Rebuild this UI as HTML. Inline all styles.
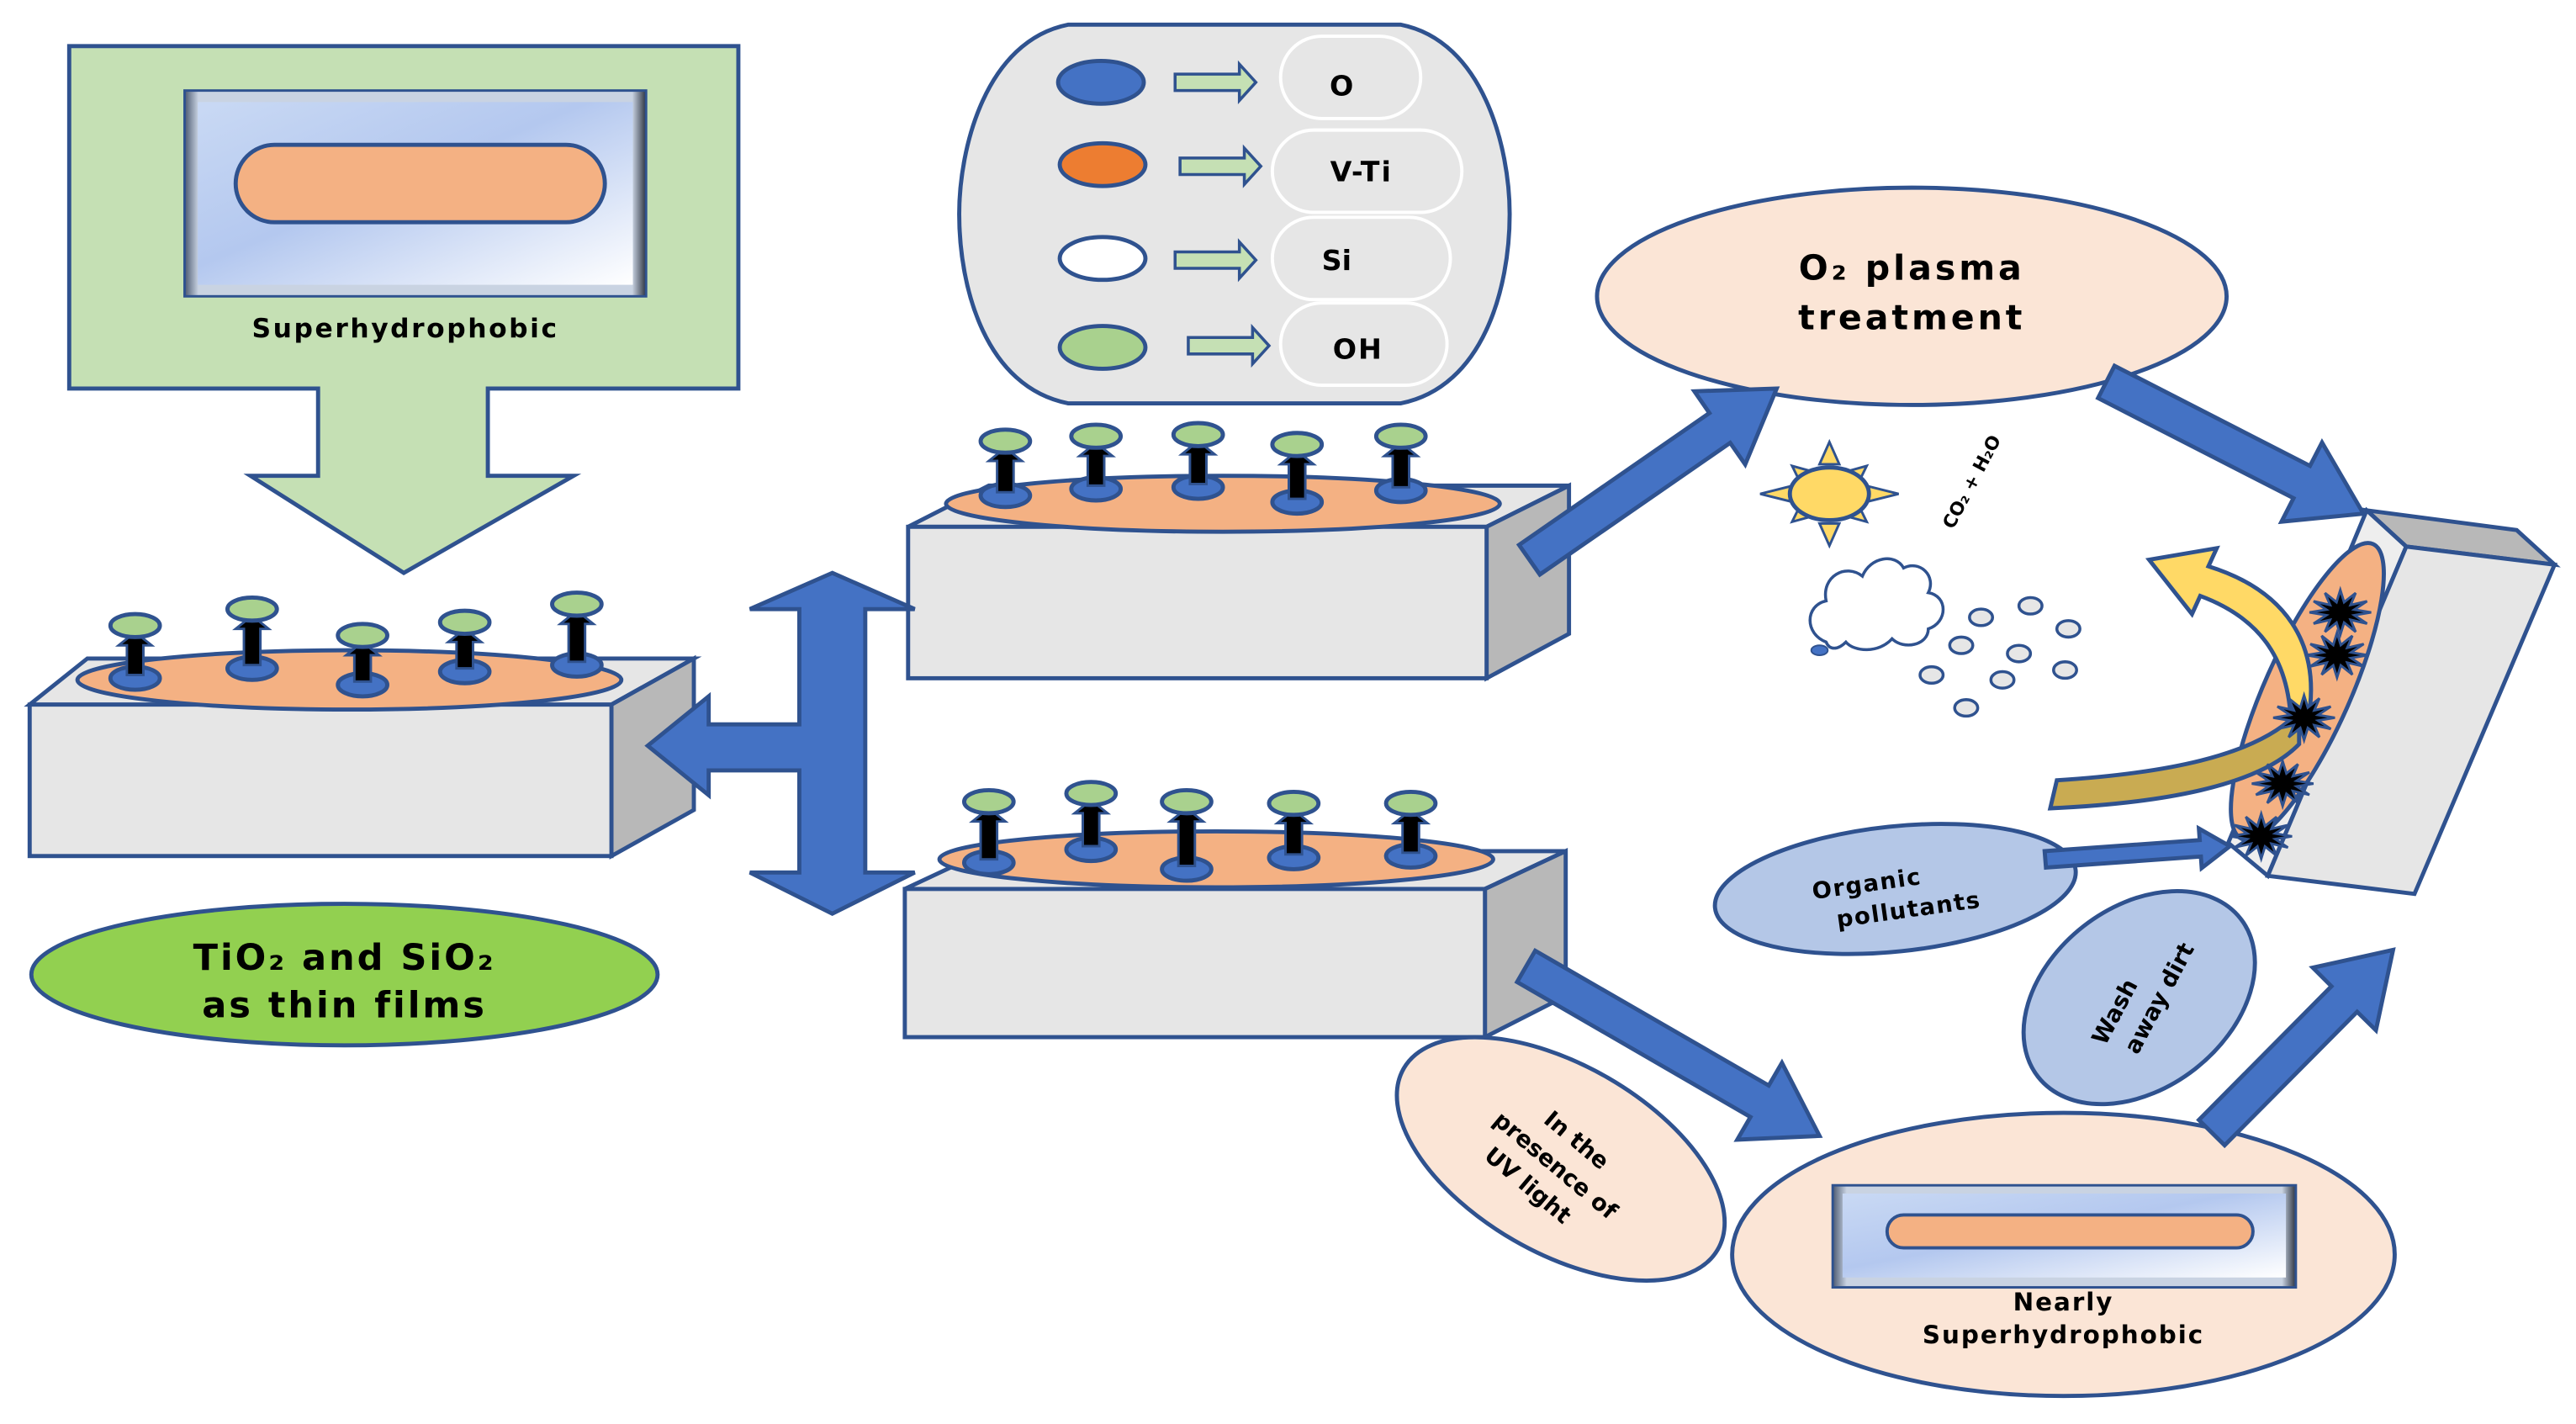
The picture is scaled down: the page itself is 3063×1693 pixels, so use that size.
<!DOCTYPE html>
<html><head><meta charset="utf-8"><style>
html,body{margin:0;padding:0;background:#fff;width:3063px;height:1693px;overflow:hidden}
svg{display:block}
text{font-family:"DejaVu Sans","Liberation Sans",sans-serif;font-weight:bold;fill:#000}
</style></head><body>
<svg id="s" width="3063" height="1693" viewBox="0 0 1563 865" preserveAspectRatio="none" xmlns="http://www.w3.org/2000/svg">
<defs>
<linearGradient id="bev" x1="0" y1="0" x2="1" y2="1">
<stop offset="0" stop-color="#c9d9f4"/><stop offset="0.45" stop-color="#b4c8ef"/><stop offset="1" stop-color="#ffffff"/></linearGradient>
<linearGradient id="frame" x1="0" y1="0" x2="1" y2="0">
<stop offset="0" stop-color="#4a5870"/><stop offset="0.03" stop-color="#c9d3e2"/><stop offset="0.97" stop-color="#c9d3e2"/><stop offset="1" stop-color="#2c3340"/></linearGradient>
</defs>
<g stroke="#2f528f" stroke-width="2.5" stroke-linejoin="miter">
<polygon points="42,28 448,28 448,236 296,236 296,289 348,289 245,348 152,289 193,289 193,236 42,236" fill="#c5e0b4"/>
<rect x="112" y="55" width="280" height="125" fill="url(#frame)" stroke-width="1.5"/>
<rect x="120" y="62" width="264" height="111" fill="url(#bev)" stroke="none"/>
<rect x="143" y="88" width="224" height="47" rx="23.5" fill="#f4b183"/>

<polygon points="18,428 53,400 421,400 371,428" fill="#e6e6e6"/>
<polygon points="371,428 421,400 421,492 371,520" fill="#b8b8b8"/>
<rect x="18" y="428" width="353" height="92" fill="#e6e6e6"/>
<ellipse cx="212" cy="413" rx="165" ry="18" fill="#f4b183"/>
<g id="pinsL"></g>

<ellipse cx="209" cy="592" rx="190" ry="43" fill="#92d050"/>

<path d="M648,15 L850,15 C900,25 916,90 916,130 C916,175 900,235 850,245 L648,245 C598,235 582,175 582,130 C582,90 598,25 648,15 Z" fill="#e6e6e6"/>
<g stroke="#fff" stroke-width="2" fill="#e6e6e6">
<rect x="777" y="22" width="85" height="50" rx="25"/>
<rect x="772" y="79" width="115" height="50" rx="25"/>
<rect x="772" y="132" width="108" height="50" rx="25"/>
<rect x="777" y="184" width="101" height="50" rx="25"/>
</g>
<ellipse cx="668" cy="50" rx="26" ry="13" fill="#4472c4"/>
<ellipse cx="669" cy="100" rx="26" ry="13" fill="#ed7d31"/>
<ellipse cx="669" cy="157" rx="26" ry="13" fill="#fff"/>
<ellipse cx="669" cy="211" rx="26" ry="13" fill="#a9d18e"/>
<g fill="#c5e0b4" stroke-width="1.8">
<polygon points="713,45 752,45 752,39 762,50 752,61 752,55 713,55"/>
<polygon points="716,96 755,96 755,90 765,101 755,112 755,106 716,106"/>
<polygon points="713,153 752,153 752,147 762,158 752,169 752,163 713,163"/>
<polygon points="721,205 760,205 760,199 770,210 760,221 760,215 721,215"/>
</g>

<polygon points="551,320 600,295 952,295 902,320" fill="#e6e6e6"/>
<polygon points="902,320 952,295 952,385 902,412" fill="#b8b8b8"/>
<rect x="551" y="320" width="351" height="92" fill="#e6e6e6"/>
<ellipse cx="742" cy="306" rx="168" ry="17" fill="#f4b183"/>
<g id="pinsT"></g>

<polygon points="549,540 598,517 950,517 901,540" fill="#e6e6e6"/>
<polygon points="901,540 950,517 950,605 901,630" fill="#b8b8b8"/>
<rect x="549" y="540" width="352" height="90" fill="#e6e6e6"/>
<ellipse cx="738" cy="522" rx="168" ry="17" fill="#f4b183"/>
<g id="pinsB"></g>

<polygon points="505,348 555,370 525,370 525,437 525,437 525,530 555,530 505,555 455,530 485,530 485,468 430,468 430,483 393,453 430,423 430,440 485,440 485,370 455,370" fill="#4472c4"/>

<ellipse cx="1160" cy="180" rx="191" ry="66" fill="#fbe5d6"/>
<ellipse cx="947" cy="704" rx="110" ry="57" transform="rotate(30 947 704)" fill="#fbe5d6"/>
<ellipse cx="1252" cy="762" rx="201" ry="86" fill="#fbe5d6"/>
<rect x="1112" y="720" width="281" height="62" fill="url(#frame)" stroke-width="1.5"/>
<rect x="1118" y="725" width="269" height="51" fill="url(#bev)" stroke="none"/>
<rect x="1145" y="738" width="222" height="20" rx="10" fill="#f4b183" stroke-width="2"/>
<ellipse cx="1150" cy="540" rx="110" ry="38" transform="rotate(-6 1150 540)" fill="#b4c7e7"/>
<ellipse cx="1298" cy="606" rx="78" ry="55" transform="rotate(-38 1298 606)" fill="#b4c7e7"/>

<g id="arrows"></g>

<g transform="translate(1110,300)">
<g id="rays" fill="#ffd966" stroke-width="1.5"></g>
<ellipse cx="0" cy="0" rx="24" ry="16" fill="#ffd966"/>
</g>
<path d="M1108,390 C1095,385 1095,368 1108,365 C1105,350 1120,342 1130,350 C1135,338 1150,336 1155,345 C1165,340 1175,350 1170,360 C1182,362 1182,378 1170,382 C1170,392 1155,395 1148,388 C1140,397 1125,396 1120,390 C1115,395 1110,395 1108,390 Z" fill="#fff" stroke-width="1.8"/>
<ellipse cx="1104" cy="395" rx="5" ry="3" fill="#4472c4" stroke-width="1"/>
<g id="dots" fill="#e6e6e6" stroke-width="1.8"></g>

<polygon points="1436,310 1527,322 1550,343 1460,332" fill="#b8b8b8"/>
<polygon points="1436,310 1460,332 1376,532 1352,512" fill="#eeeeee"/>
<polygon points="1460,332 1550,343 1465,543 1376,532" fill="#e6e6e6"/>
<ellipse cx="1400" cy="420" rx="98" ry="26" transform="rotate(-66 1400 420)" fill="#f4b183"/>
<path d="M1390,450 C1392,400 1370,375 1335,362 L1330,373 L1304,340 L1345,333 L1340,344 C1385,358 1410,390 1400,440 Z" fill="#ffd966"/>
<path d="M1248,474 C1310,470 1370,460 1395,432 L1395,452 C1370,478 1310,488 1244,491 Z" fill="#c9ab52"/>
<g id="stars" fill="#000" stroke-width="1.5"></g>
</g>

<text x="246" y="205" font-size="16" text-anchor="middle" letter-spacing="1.3">Superhydrophobic</text>
<text x="209" y="589" font-size="22" text-anchor="middle" letter-spacing="1.5">TiO₂ and SiO₂</text>
<text x="209" y="618" font-size="22" text-anchor="middle" letter-spacing="1.5">as thin films</text>
<text x="814" y="58" font-size="17" text-anchor="middle">O</text>
<text x="826" y="110" font-size="17" text-anchor="middle" letter-spacing="1">V-Ti</text>
<text x="811" y="164" font-size="17" text-anchor="middle">Si</text>
<text x="824" y="218" font-size="17" text-anchor="middle" letter-spacing="1">OH</text>
<text x="1160" y="170" font-size="21" text-anchor="middle" letter-spacing="2">O₂ plasma</text>
<text x="1160" y="200" font-size="21" text-anchor="middle" letter-spacing="2">treatment</text>
<text x="0" y="0" font-size="11" transform="translate(1185,322) rotate(-62)">CO₂ + H₂O</text>
<g transform="translate(1152,545) rotate(-8)">
<text x="-18" y="-6" font-size="14" text-anchor="middle" letter-spacing="0.8">Organic</text>
<text x="5" y="13" font-size="14" text-anchor="middle" letter-spacing="0.8">pollutants</text></g>
<g transform="translate(1300,610) rotate(-62)">
<text x="-12" y="-8" font-size="14" text-anchor="middle">Wash</text>
<text x="8" y="12" font-size="14" text-anchor="middle">away dirt</text></g>
<g transform="translate(942,710) rotate(40)">
<text x="0" y="-18" font-size="14" text-anchor="middle">In the</text>
<text x="0" y="2" font-size="14" text-anchor="middle">presence of</text>
<text x="-5" y="22" font-size="14" text-anchor="middle">UV light</text></g>
<text x="1252" y="796" font-size="15" text-anchor="middle" letter-spacing="1">Nearly</text>
<text x="1252" y="816" font-size="15" text-anchor="middle" letter-spacing="1">Superhydrophobic</text>
</svg>
<script>
var NS="http://www.w3.org/2000/svg";
function el(p,t,a){var e=document.createElementNS(NS,t);for(var k in a)e.setAttribute(k,a[k]);p.appendChild(e);return e;}
function pins(id,list){var g=document.getElementById(id);list.forEach(function(p){var x=p[0],b=p[1],h=p[2];
el(g,"ellipse",{cx:x,cy:b,rx:15,ry:7,fill:"#4472c4"});
el(g,"polygon",{points:(x-5)+","+(b-2)+" "+(x-5)+","+(h+12)+" "+(x-10)+","+(h+12)+" "+x+","+(h+4)+" "+(x+10)+","+(h+12)+" "+(x+5)+","+(h+12)+" "+(x+5)+","+(b-2),fill:"#000","stroke-width":1.5});
el(g,"ellipse",{cx:x,cy:h,rx:15,ry:7,fill:"#a9d18e"});});}
pins("pinsL",[[82,412,380],[153,406,370],[220,416,386],[282,408,378],[350,404,367]]);
pins("pinsT",[[610,301,268],[665,297,265],[727,296,264],[787,305,270],[850,298,265]]);
pins("pinsB",[[600,524,487],[662,516,482],[720,528,487],[785,521,488],[856,520,488]]);
function arrow(x1,y1,x2,y2,sw,hw,hl){var dx=x2-x1,dy=y2-y1,L=Math.hypot(dx,dy),ux=dx/L,uy=dy/L,nx=-uy,ny=ux;
var bx=x2-ux*hl,by=y2-uy*hl;function P(x,y){return x.toFixed(1)+","+y.toFixed(1);}
var pts=[P(x1+nx*sw,y1+ny*sw),P(bx+nx*sw,by+ny*sw),P(bx+nx*hw,by+ny*hw),P(x2,y2),P(bx-nx*hw,by-ny*hw),P(bx-nx*sw,by-ny*sw),P(x1-nx*sw,y1-ny*sw)];
el(document.getElementById("arrows"),"polygon",{points:pts.join(" "),fill:"#4472c4"});}
arrow(928,340,1078,236,11,27,42);
arrow(1278,232,1434,312,11,27,42);
arrow(926,587,1104,690,11,27,42);
arrow(1342,688,1452,577,11,27,42);
arrow(1241,522,1353,514,5,12,18);
var r=document.getElementById("rays");
for(var i=0;i<8;i++){var a=i*Math.PI/4;var c=Math.cos(a),s=Math.sin(a);var R1=i%2?19:24,R2=i%2?32:42;var w=6;
el(r,"polygon",{points:(c*R1-s*w)+","+(s*R1*0.75+c*w*0.75)+" "+(c*R2)+","+(s*R2*0.75)+" "+(c*R1+s*w)+","+(s*R1*0.75-c*w*0.75)});}
var d=document.getElementById("dots");
[[1202,375],[1232,368],[1190,392],[1225,397],[1255,382],[1172,410],[1215,413],[1253,407],[1193,430]].forEach(function(p){el(d,"ellipse",{cx:p[0],cy:p[1],rx:7,ry:5});});
var st=document.getElementById("stars");
[[1420,372],[1418,398],[1398,436],[1385,476],[1372,508]].forEach(function(p){var pts=[];for(var i=0;i<24;i++){var a=i*Math.PI/12;var R=i%2?8:17;pts.push((p[0]+Math.cos(a)*R*1.1).toFixed(1)+","+(p[1]+Math.sin(a)*R*0.8).toFixed(1));}
el(st,"polygon",{points:pts.join(" ")});});
</script>
</body></html>
